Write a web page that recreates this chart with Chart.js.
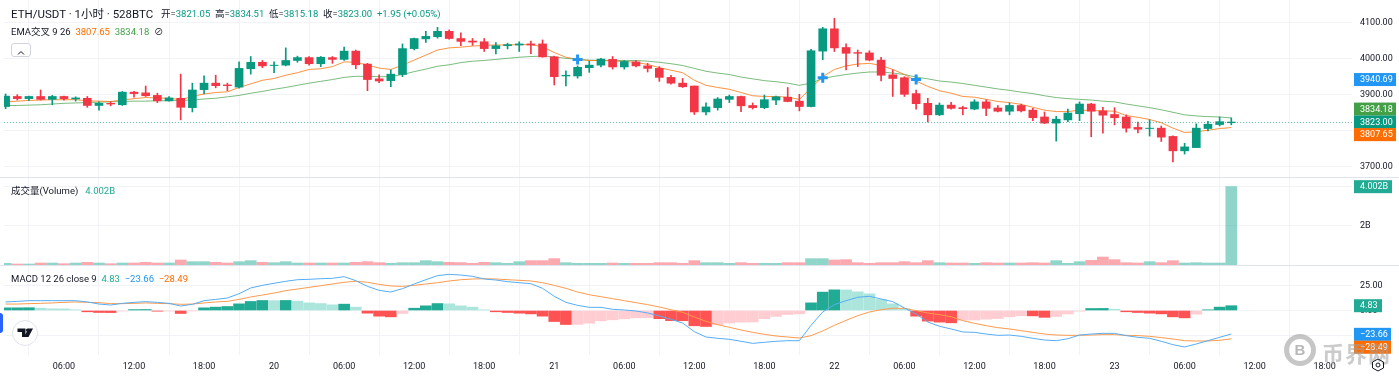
<!DOCTYPE html>
<html>
<head>
<meta charset="utf-8">
<title>ETH/USDT</title>
<script src="https://cdn.jsdelivr.net/npm/chart.js@4"></script>
<style>
  html, body { margin: 0; padding: 0; background: #fff; overflow: hidden; }
  body { width: 1399px; height: 377px; position: relative; font-family: Roboto, "Noto Sans CJK SC", sans-serif; color: #131722; }
  canvas { position: absolute; left: 0; display: block; }
  .txt { position: absolute; font-size: 9.5px; line-height: 12px; white-space: nowrap; }
  .sep { position: absolute; left: 0; width: 1399px; height: 1px; background: #e0e3eb; }
  .up { color: #089981; }
  .teal { color: #22ab94; }
  .ora { color: #ff6d00; }
  .grn { color: #43a047; }
  .blu { color: #2196f3; }
  #collapse { position: absolute; left: 11px; top: 43px; width: 20px; height: 14px; border: 1px solid #d1d4dc; border-radius: 3px; background: #fff; box-sizing: border-box; }
  #logo { position: absolute; left: 12px; top: 320px; width: 26px; height: 26px; border: 1px solid #e0e3eb; border-radius: 50%; background: #fff; box-sizing: border-box; }
  #tab { position: absolute; left: 0; top: 313px; width: 3px; height: 20px; background: #2962ff; border-radius: 0 3px 3px 0; }
  #mark { position: absolute; left: 1284px; top: 334px; width: 32px; height: 32px; border: 5px solid rgba(160,160,160,.6); border-radius: 50%; box-sizing: border-box; font: bold 15px/22px "Liberation Sans"; text-align: center; color: rgba(160,160,160,.75); }
  #markText { position: absolute; left: 1322px; top: 340px; font: bold 22px/24px "Noto Sans CJK SC"; letter-spacing: 1px; color: rgba(160,160,160,.55); white-space: nowrap; }
</style>
</head>
<body>
<canvas id="priceChart" width="1399" height="177" style="top:0"></canvas>
<canvas id="volChart" width="1399" height="87" style="top:178px"></canvas>
<canvas id="macdChart" width="1399" height="111" style="top:266px"></canvas>
<div class="sep" style="top:177px"></div>
<div class="sep" style="top:265px"></div>

<div class="txt" style="left:11px;top:7px;font-size:11.5px;line-height:14px">ETH/USDT · 1小时 · 528BTC</div>
<div class="txt" style="left:161px;top:8px">开=<span class="up">3821.05</span>&nbsp; 高=<span class="up">3834.51</span>&nbsp; 低=<span class="up">3815.18</span>&nbsp; 收=<span class="up">3823.00</span>&nbsp; <span class="up">+1.95 (+0.05%)</span></div>
<div class="txt" style="left:11px;top:26px">EMA交叉 9 26&nbsp; <span class="ora">3807.65</span>&nbsp; <span class="grn">3834.18</span>&nbsp; ⊘</div>
<div id="collapse"><svg width="18" height="12"><path d="M6 7.5 L9 4.5 L12 7.5" fill="none" stroke="#131722" stroke-width="1"/></svg></div>
<div class="txt" style="left:11px;top:185px">成交量(Volume)&nbsp;&nbsp; <span class="teal">4.002B</span></div>
<div class="txt" style="left:11px;top:273px">MACD 12 26 close 9&nbsp; <span class="teal">4.83</span>&nbsp; <span class="blu">−23.66</span>&nbsp; <span class="ora">−28.49</span></div>
<div id="tab"></div>
<div id="logo"><svg width="24" height="24"><path d="M4.5 7.5 H12.5 V16 H9 V11 H4.5 Z M15 7.5 H20 L15.5 16 H11.5 Z" fill="#131722"/><circle cx="14.5" cy="9" r="1.6" fill="#131722"/></svg></div>
<div id="mark">B</div>
<div id="markText">币界网</div>
<svg style="position:absolute;left:1371px;top:358px" width="14" height="14"><path d="M7 1 L12.5 4 V10 L7 13 L1.5 10 V4 Z" fill="none" stroke="#131722"/><circle cx="7" cy="7" r="2" fill="none" stroke="#131722"/></svg>

<script>
// hourly candles, 19th 01:00 to 23rd 10:00
const opens = [3866,3894,3888,3894,3886,3894,3887,3889,3869,3875,3871,3906,3904,3897,3882,3889,3863,3913,3931,3926,3920,3971,3989,3980,3981,3994,4002,3985,4002,3997,4020,3984,3943,3938,3955,4027,4054,4060,4075,4055,4048,4046,4027,4035,4037,4040,4040,4004,3951,3951,3974,3981,3997,3976,3990,3979,3972,3947,3931,3923,3851,3863,3886,3894,3869,3863,3884,3892,3881,3866,4020,4082,4030,4016,4015,3995,3954,3946,3902,3875,3843,3870,3863,3859,3879,3862,3853,3869,3856,3837,3820,3829,3846,3873,3854,3844,3837,3808,3805,3806,3783,3743,3752,3805,3816,3821.05];
const highs = [3901,3899,3895,3912,3897,3895,3893,3894,3879,3879,3908,3908,3923,3903,3894,3956,3931,3951,3953,3931,3990,4005,3994,3990,4029,4006,4005,4005,4005,4031,4023,3986,3954,3968,4040,4056,4075,4086,4079,4071,4055,4055,4044,4042,4046,4048,4051,4006,3965,3979,3992,4000,4005,3994,3994,3986,3977,3953,3944,3923,3876,3891,3898,3895,3876,3898,3895,3919,3900,4025,4086,4111,4040,4023,4021,4003,3968,3949,3912,3889,3876,3878,3867,3885,3885,3869,3876,3873,3861,3851,3839,3859,3879,3875,3864,3863,3843,3823,3829,3812,3785,3764,3818,3825,3837,3834.51];
const lows = [3860,3884,3882,3884,3871,3884,3881,3864,3856,3868,3869,3892,3894,3877,3881,3829,3851,3901,3918,3910,3917,3956,3974,3960,3979,3989,3981,3977,3986,3994,3971,3910,3932,3921,3949,4023,4044,4056,4053,4035,4036,4019,4012,4026,4019,4013,4003,3926,3923,3945,3961,3976,3970,3970,3976,3962,3936,3928,3919,3844,3843,3856,3877,3852,3859,3860,3871,3879,3854,3865,3996,4019,3968,3977,3993,3937,3894,3894,3859,3823,3841,3859,3843,3857,3841,3851,3843,3851,3827,3819,3770,3824,3827,3782,3792,3815,3795,3793,3784,3769,3712,3734,3752,3798,3812,3815.18];
const closes = [3895,3888,3894,3886,3894,3888,3890,3869,3875,3873,3906,3902,3896,3882,3890,3864,3912,3931,3924,3924,3972,3989,3979,3981,3994,4002,3985,4003,3997,4020,3982,3941,3937,3956,4027,4055,4061,4075,4055,4047,4045,4027,4035,4038,4040,4037,4004,3949,3953,3975,3981,3998,3976,3991,3979,3972,3947,3931,3921,3851,3865,3887,3894,3868,3863,3885,3893,3880,3866,4021,4082,4029,4014,4014,3995,3953,3944,3900,3874,3843,3870,3861,3860,3879,3861,3853,3869,3854,3835,3820,3831,3848,3873,3853,3842,3835,3806,3803,3806,3781,3743,3754,3806,3817,3824,3823];

const ema9 = [3879,3881,3883,3884,3885,3885,3885,3882,3881,3880,3884,3888,3891,3890,3889,3885,3894,3901,3905,3907,3919,3929,3939,3944,3953,3960,3969,3971,3977,3990,3989,3981,3973,3969,3981,3995,4009,4023,4029,4031,4034,4036,4037,4037,4038,4038,4032,4016,4003,3997,3994,3994,3993,3991,3989,3983,3974,3967,3960,3939,3925,3919,3914,3905,3896,3894,3894,3892,3886,3917,3949,3969,3979,3984,3986,3980,3969,3955,3937,3922,3910,3903,3894,3892,3886,3880,3877,3872,3864,3856,3852,3852,3856,3855,3854,3853,3841,3836,3830,3821,3806,3794,3796,3800,3805,3807.65];
const ema26 = [3869,3869,3870,3871,3873,3875,3876,3877,3878,3879,3880,3881,3881,3882,3882,3883,3884,3887,3889,3893,3897,3903,3908,3914,3919,3925,3931,3936,3941,3947,3950,3950,3949,3949,3955,3963,3970,3978,3982,3988,3992,3994,3997,4000,4003,4005,4006,4004,4000,3997,3995,3994,3994,3994,3994,3992,3989,3985,3980,3972,3964,3959,3955,3948,3943,3938,3935,3931,3925,3931,3944,3950,3955,3959,3962,3962,3959,3955,3948,3943,3937,3934,3930,3925,3920,3915,3911,3906,3902,3896,3891,3888,3886,3884,3881,3879,3873,3868,3863,3857,3850,3843,3840,3838,3837,3834.18];

// crossing markers on the EMA pair
const crossIdx = [49, 70, 78];
const crossVal = [3997, 3946, 3941];

// volume in millions of USDT
const volumes = [85,51,51,102,102,68,102,136,102,68,102,102,136,102,102,256,170,170,136,102,170,222,136,119,170,102,102,102,102,102,136,170,119,85,119,119,222,170,136,119,85,136,119,85,170,222,222,324,119,85,85,85,102,85,85,85,119,119,85,222,119,119,85,119,85,85,85,119,119,324,324,256,273,119,85,119,119,170,119,222,119,102,102,85,119,102,102,102,119,102,222,85,170,239,409,273,119,102,170,119,222,102,119,102,102,4002];

const macdLine = [8.6,9.2,9.9,9.9,9.9,9.9,9.9,8.6,6.5,5.5,7.2,8.2,8.9,8.2,7.2,4.5,6.2,9.9,11.2,12.6,16.9,22.7,25.3,27.4,29.4,31.0,31.4,32.0,32.4,34.1,30.0,24.3,20.3,18.6,22.0,26.7,31.0,35.1,36.4,35.7,34.4,31.7,30.7,29.0,28.0,27.0,22.3,14.3,8.2,5.2,3.2,3.2,1.2,0.5,-0.5,-2.5,-5.5,-8.9,-12.6,-21.3,-26.7,-28.0,-29.0,-31.0,-33.1,-32.0,-31.0,-30.4,-30.4,-14.9,-1.5,5.9,9.9,13.3,14.3,11.6,8.9,2.5,-3.5,-11.6,-15.9,-18.6,-21.6,-22.0,-23.7,-25.0,-24.7,-26.0,-28.0,-29.7,-30.4,-28.4,-24.7,-23.7,-23.0,-23.0,-25.3,-27.0,-28.0,-31.0,-34.4,-36.7,-33.7,-30.4,-27.0,-23.66];
const signalLine = [6.5,6.5,6.9,7.2,7.6,8.2,8.6,8.2,7.9,6.9,6.9,7.2,7.6,7.2,6.9,6.2,6.5,7.6,8.6,9.2,11.2,13.6,15.6,17.6,20.0,21.6,23.3,25.0,26.7,28.4,29.4,28.4,26.3,24.7,24.3,25.3,26.7,28.0,29.7,31.0,31.7,32.0,31.7,31.0,30.4,29.7,28.0,25.3,22.3,18.6,15.9,13.9,11.9,9.9,7.9,5.9,3.5,0.8,-1.8,-6.5,-10.9,-14.3,-16.9,-19.6,-22.0,-24.0,-25.7,-26.7,-27.7,-25.3,-20.6,-14.9,-9.9,-5.2,-1.5,0.8,2.2,2.2,-0.2,-2.5,-4.2,-6.2,-10.2,-12.9,-15.3,-17.3,-18.6,-20.3,-22.0,-23.7,-24.7,-25.0,-25.0,-24.7,-24.3,-24.3,-25.0,-25.3,-26.0,-27.3,-28.7,-30.4,-30.7,-30.7,-30.0,-28.49];
const macdHist = [2.7,2.7,2.8,2.3,1.7,1.6,0.7,-1.3,-2.0,-2.1,-0.6,0.9,1.0,-0.7,-0.6,-3.0,-0.4,2.7,3.4,4.0,6.7,9.1,10.1,9.9,10.1,9.4,7.7,7.0,5.7,6.4,3.4,-2.7,-5.7,-6.4,-3.0,2.3,4.7,7.0,6.7,4.7,3.4,0.7,-1.3,-2.0,-2.7,-3.4,-5.7,-11.1,-14.1,-14.0,-12.8,-10.4,-9.4,-8.4,-7.4,-7.3,-8.2,-10.2,-10.3,-15.4,-16.1,-14.3,-12.6,-11.7,-11.6,-8.2,-5.9,-4.0,-3.4,7.7,18.5,20.8,20.7,18.8,16.8,11.1,6.7,1.7,-5.7,-10.7,-11.7,-12.4,-9.7,-9.6,-8.7,-8.1,-6.4,-5.2,-5.4,-6.9,-6.0,-3.5,-0.7,2.0,2.1,1.3,-1.3,-2.0,-2.7,-3.4,-6.4,-7.4,-3.7,0.7,3.4,4.83];

// time axis ticks, as candle index and label
const timeTicks = [5,11,17,23,29,35,41,47,53,59,65,71,77,83,89,95,101,107,113];
const timeLabels = ['06:00','12:00','18:00','20','06:00','12:00','18:00','21','06:00','12:00','18:00','22','06:00','12:00','18:00','23','06:00','12:00','18:00'];

const priceTicks = [3700,3800,3900,4000,4100];
const volTicks = [2000,4000];
const macdTicks = [-25,0,25];

const UP = '#089981', DOWN = '#f23645';
const GRID = '#f2f3f6';
const FONT = 'Roboto, "Noto Sans CJK SC", sans-serif';

const xy = arr => arr.map((y, i) => ({ x: i, y }));
const isUp = i => closes[i] >= opens[i];

// right hand labels and the dotted last price line
const tagPlugin = {
  id: 'tags',
  afterDraw(chart, args, opts) {
    const ctx = chart.ctx;
    const y = chart.scales.y;
    ctx.save();
    if (opts.lastLine != null) {
      const ly = Math.round(y.getPixelForValue(opts.lastLine)) + 0.5;
      ctx.strokeStyle = 'rgba(8,153,129,.6)';
      ctx.lineWidth = 1;
      ctx.setLineDash([1, 2]);
      ctx.beginPath();
      ctx.moveTo(4, ly);
      ctx.lineTo(1354, ly);
      ctx.stroke();
      ctx.setLineDash([]);
    }
    ctx.font = '9px ' + FONT;
    ctx.textBaseline = 'middle';
    (opts.items || []).forEach(t => {
      const py = y.getPixelForValue(t.at);
      ctx.fillStyle = t.bg;
      ctx.fillRect(1354, py - 6.5, t.w, 13);
      ctx.fillStyle = '#fff';
      ctx.fillText(t.text, 1360, py + 0.5);
    });
    ctx.restore();
  }
};

function xAxis(showLabels) {
  return {
    type: 'linear',
    min: -0.137,
    max: 115.34,
    offset: false,
    afterBuildTicks: a => { a.ticks = timeTicks.map(value => ({ value })); },
    afterFit: a => { a.paddingLeft = 0; a.paddingRight = 0; if (!showLabels) a.height = 0; else a.height = 22; },
    grid: { color: GRID, drawTicks: false },
    border: { display: false },
    ticks: {
      display: showLabels,
      autoSkip: false,
      maxRotation: 0,
      padding: 6,
      color: '#131722',
      font: { family: FONT, size: 9 },
      callback: (v, i) => timeLabels[i]
    }
  };
}

function yAxis(min, max, values, label) {
  return {
    position: 'right',
    min,
    max,
    afterBuildTicks: a => { a.ticks = values.map(value => ({ value })); },
    afterFit: a => { a.width = 47; a.paddingTop = 0; a.paddingBottom = 0; },
    grid: { color: GRID, drawTicks: false },
    border: { display: false },
    ticks: {
      padding: 8,
      color: '#131722',
      font: { family: FONT, size: 9 },
      callback: label
    }
  };
}

function baseOptions(x, y, tags) {
  return {
    responsive: false,
    animation: false,
    events: [],
    layout: { autoPadding: false, padding: { left: 4, right: 0, top: 0, bottom: 0 } },
    scales: { x, y },
    plugins: { legend: { display: false }, tooltip: { enabled: false }, tags }
  };
}

function lineSet(values, color, order) {
  return { type: 'line', data: xy(values), borderColor: color, borderWidth: 1, pointRadius: 0, tension: 0, order };
}

new Chart(document.getElementById('priceChart'), {
  type: 'bar',
  plugins: [tagPlugin],
  data: {
    datasets: [
      {
        type: 'line',
        data: crossIdx.map((x, i) => ({ x, y: crossVal[i] })),
        showLine: false,
        pointStyle: 'cross',
        pointRadius: 5,
        pointBorderWidth: 3,
        pointBorderColor: '#2196f3',
        order: 0
      },
      {
        data: opens.map((o, i) => ({ x: i, y: [o, closes[i]] })),
        backgroundColor: opens.map((o, i) => isUp(i) ? UP : DOWN),
        barThickness: 8,
        grouped: false,
        order: 1
      },
      {
        data: highs.map((h, i) => ({ x: i, y: [lows[i], h] })),
        backgroundColor: opens.map((o, i) => isUp(i) ? UP : DOWN),
        barThickness: 1,
        grouped: false,
        order: 2
      },
      lineSet(ema9, 'rgba(255,109,0,.75)', 3),
      lineSet(ema26, 'rgba(67,160,71,.7)', 4)
    ]
  },
  options: baseOptions(
    xAxis(false),
    yAxis(3670.3, 4162, priceTicks, v => v.toFixed(2)),
    {
      lastLine: 3823,
      items: [
        { at: 3941, text: '3940.69', bg: '#2196f3', w: 42 },
        { at: 3859, text: '3834.18', bg: '#43a047', w: 42 },
        { at: 3823, text: '3823.00', bg: '#089981', w: 42 },
        { at: 3788, text: '3807.65', bg: '#ff6d00', w: 42 }
      ]
    }
  )
});

new Chart(document.getElementById('volChart'), {
  type: 'bar',
  plugins: [tagPlugin],
  data: {
    datasets: [{
      data: xy(volumes),
      backgroundColor: opens.map((o, i) => isUp(i) ? 'rgba(34,171,148,.5)' : 'rgba(247,82,95,.5)'),
      barThickness: 11
    }]
  },
  options: baseOptions(
    xAxis(false),
    yAxis(0, 4445, volTicks, v => v === 2000 ? '2B' : ''),
    { items: [{ at: 4002, text: '4.002B', bg: '#22ab94', w: 38 }] }
  )
});

new Chart(document.getElementById('macdChart'), {
  type: 'bar',
  plugins: [tagPlugin],
  data: {
    datasets: [
      lineSet(macdLine, '#56adf5', 1),
      lineSet(signalLine, '#ff9a4d', 1),
      {
        data: xy(macdHist),
        backgroundColor: macdHist.map((v, i) => {
          const rising = i === 0 || v >= macdHist[i - 1];
          if (v >= 0) return rising ? '#22ab94' : '#ace5dc';
          return rising ? '#ffcdd2' : '#ff5252';
        }),
        barThickness: 11,
        order: 2
      }
    ]
  },
  options: baseOptions(
    xAxis(true),
    yAxis(-44.8, 44.8, macdTicks, v => v.toFixed(2)),
    {
      items: [
        { at: 4.83, text: '4.83', bg: '#22ab94', w: 28 },
        { at: -24, text: '−23.66', bg: '#2196f3', w: 37 },
        { at: -37, text: '−28.49', bg: '#ff6d00', w: 37 }
      ]
    }
  )
});
</script>
</body>
</html>
